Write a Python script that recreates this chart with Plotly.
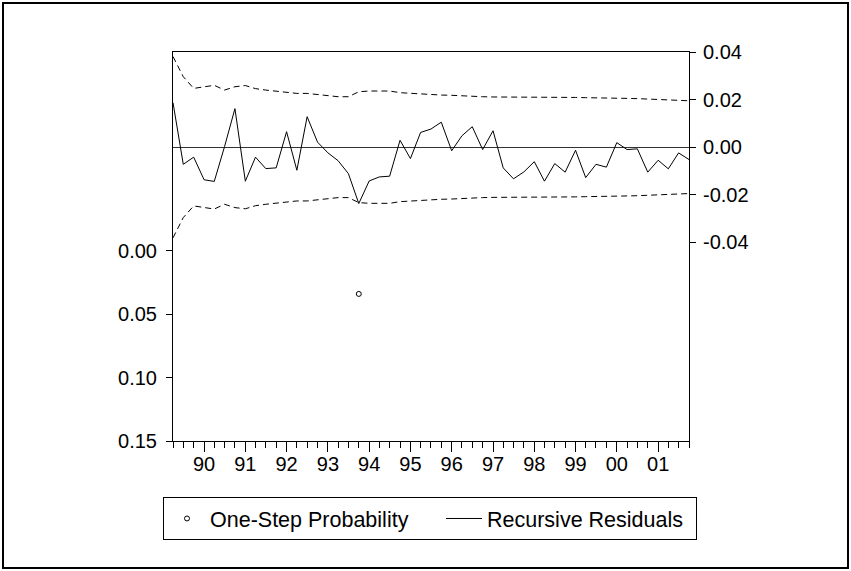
import pandas as pd
import plotly.graph_objects as go

# Recursive residuals, 1989Q2 - 2001Q4
resid = [0.0187, -0.0072, -0.0042, -0.0137, -0.0144, 0.0002, 0.0162, -0.0143,
         -0.0042, -0.0090, -0.0087, 0.0065, -0.0097, 0.0128, 0.0021, -0.0024,
         -0.0057, -0.0111, -0.0237, -0.0142, -0.0125, -0.0122, 0.0029, -0.0048,
         0.0062, 0.0076, 0.0105, -0.0015, 0.0048, 0.0086, -0.0010, 0.0069,
         -0.0087, -0.0133, -0.0104, -0.0061, -0.0143, -0.0069, -0.0105, -0.0013,
         -0.0128, -0.0072, -0.0084, 0.0019, -0.0010, -0.0007, -0.0105, -0.0055,
         -0.0091, -0.0024, -0.0052]

# Two standard error band (plotted as +/-)
band = [0.0381, 0.0296, 0.0247, 0.0254, 0.0260, 0.0240, 0.0254, 0.0259,
        0.0246, 0.0240, 0.0236, 0.0229, 0.0226, 0.0226, 0.0222, 0.0216,
        0.0212, 0.0212, 0.0233, 0.0236, 0.0236, 0.0236, 0.0229, 0.0226,
        0.0223, 0.0222, 0.0219, 0.0218, 0.0215, 0.0214, 0.0212, 0.0211,
        0.0211, 0.0211, 0.0211, 0.0212, 0.0212, 0.0212, 0.0211, 0.0209,
        0.0208, 0.0208, 0.0208, 0.0207, 0.0205, 0.0204, 0.0202, 0.0201,
        0.0199, 0.0198, 0.0195]

start_quarter = "1989Q2"
quarters = pd.period_range(start_quarter, periods=len(resid), freq="Q").to_timestamp()

# One-step forecast probabilities shown on the 0 - 0.15 scale
prob_quarters = ["1993Q4"]
prob_values = [0.034]
prob_dates = [pd.Period(q, freq="Q").to_timestamp() for q in prob_quarters]

left_ticks = [0.00, 0.05, 0.10, 0.15]
right_ticks = [-0.04, -0.02, 0.00, 0.02, 0.04]

FONT = "Liberation Sans, Arial, sans-serif"
FS = 20
LEG_FS = 21.5

fig = go.Figure()

fig.add_trace(go.Scatter(
    x=prob_dates, y=prob_values, yaxis="y", mode="markers",
    name="One-Step Probability", legendwidth=226,
    marker=dict(symbol="circle-open", size=5, color="black", line=dict(width=1, color="black")),
))
fig.add_trace(go.Scatter(
    x=quarters, y=resid, yaxis="y2", mode="lines",
    name="Recursive Residuals", legendwidth=204,
    line=dict(color="black", width=1),
))
fig.add_trace(go.Scatter(
    x=quarters, y=band, yaxis="y2", mode="lines", showlegend=False,
    line=dict(color="black", width=1, dash="6px,4px"),
))
fig.add_trace(go.Scatter(
    x=quarters, y=[-v for v in band], yaxis="y2", mode="lines", showlegend=False,
    line=dict(color="black", width=1, dash="6px,4px"),
))

L, R, T, B = 173, 162, 52, 130
W, H = 851, 571
pw, ph = W - L - R, H - T - B

fig.update_layout(
    width=W, height=H,
    margin=dict(l=L, r=R, t=T, b=B, autoexpand=False),
    paper_bgcolor="white", plot_bgcolor="white",
    font=dict(family=FONT, size=FS, color="black"),
    showlegend=True,
    legend=dict(
        orientation="h",
        x=(163 - L) / pw, xanchor="left",
        y=-(497 - (T + ph)) / ph, yanchor="top",
        bordercolor="black", borderwidth=1, bgcolor="white",
        font=dict(family=FONT, size=LEG_FS, color="black"),
        itemwidth=36,
    ),
    xaxis=dict(
        type="date",
        range=[quarters[0], quarters[-1]],
        tick0="1990-01-01", dtick="M12", tickformat="%y",
        ticks="outside", ticklen=10, tickcolor="black", tickwidth=1,
        minor=dict(dtick="M3", tick0="1989-04-01", ticks="outside", ticklen=6,
                   tickcolor="black", tickwidth=1, showgrid=False),
        showline=True, linecolor="black", linewidth=1, mirror=True,
        showgrid=False, zeroline=False, ticklabelstandoff=-5,
        tickfont=dict(size=FS),
    ),
    yaxis=dict(
        range=[0.15, -0.1568],
        tickvals=left_ticks, ticktext=[f"{v:.2f}" for v in left_ticks],
        ticks="outside", ticklen=6, tickcolor="black",
        showline=True, linecolor="black", linewidth=1,
        showgrid=False, zeroline=False, ticklabelstandoff=5,
        tickfont=dict(size=FS),
    ),
    yaxis2=dict(
        overlaying="y", side="right",
        range=[-0.1235, 0.0400],
        tickvals=right_ticks, ticktext=[f"{v:.2f}" for v in right_ticks],
        ticks="outside", ticklen=6, tickcolor="black",
        showline=True, linecolor="black", linewidth=1,
        showgrid=False, zeroline=True, zerolinecolor="#333333", zerolinewidth=1,
        ticklabelstandoff=3,
        tickfont=dict(size=FS),
    ),
)

# Outer frame of the graphic
fig.add_shape(
    type="rect", xref="paper", yref="paper",
    x0=-(L - 3) / pw, x1=1 + (R - 3) / pw,
    y0=-(B - 3) / ph, y1=1 + (T - 3) / ph,
    line=dict(color="black", width=2), layer="above",
)

fig.write_html("out.html")
